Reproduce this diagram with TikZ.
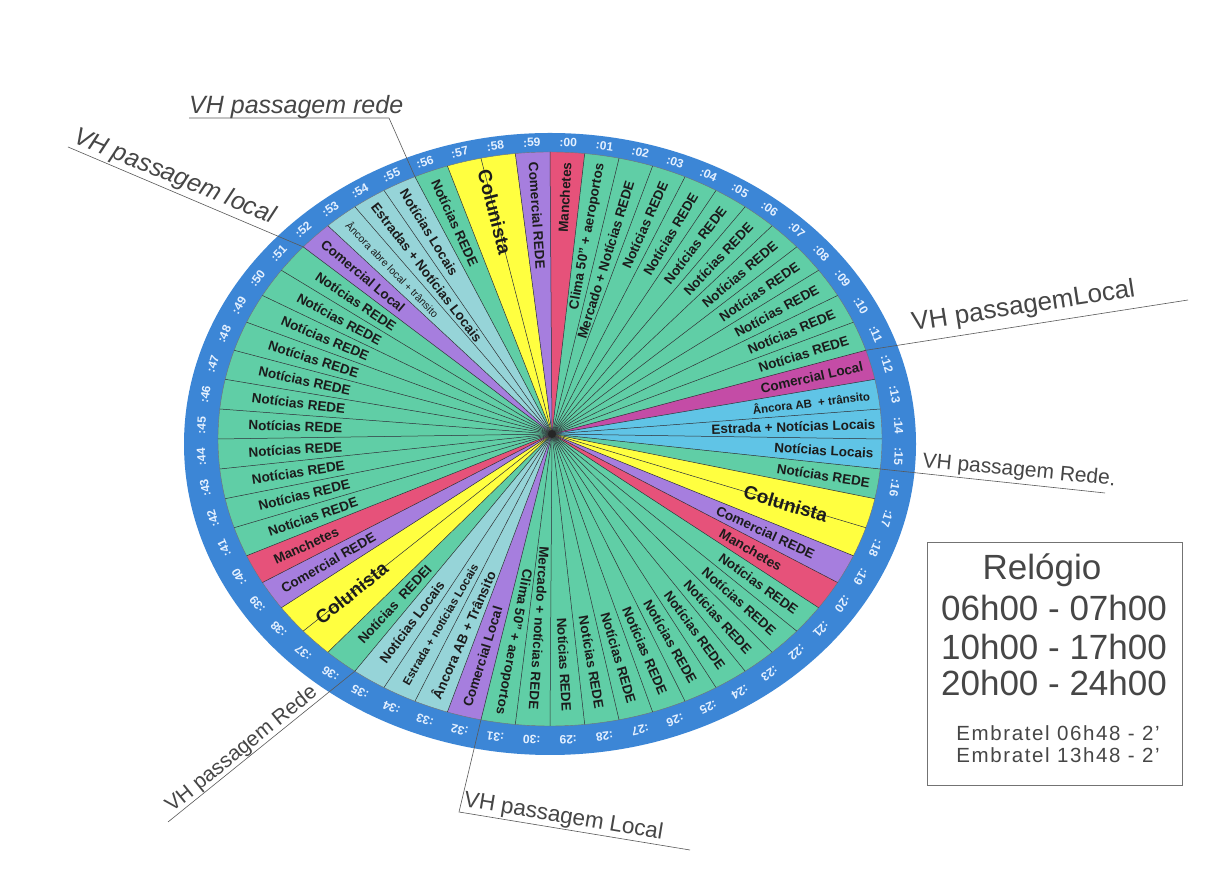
\documentclass[tikz,border=0pt]{standalone}
\usepackage{fontspec}
\setmainfont{Liberation Sans}
\newfontfamily\widefont[LetterSpace=8]{Liberation Sans}
\usetikzlibrary{calc}
\definecolor{cTeal}{RGB}{96,206,166}
\definecolor{cPale}{RGB}{150,212,216}
\definecolor{cSky}{RGB}{96,196,230}
\definecolor{cPurp}{RGB}{166,126,222}
\definecolor{cRed}{RGB}{230,82,122}
\definecolor{cMag}{RGB}{196,76,166}
\definecolor{cYel}{RGB}{255,255,64}
\definecolor{cRing}{RGB}{60,134,214}
\definecolor{cRim}{RGB}{228,240,255}
\definecolor{cTxt}{RGB}{28,28,28}
\definecolor{cGray}{RGB}{70,70,70}
\newcommand\seglabel[5]{%
  \pgfmathsetmacro\tmid{90-6*(#1+#2/2)}%
  \ifnum#1<32 \def\sanc{east}\def\sadd{0}\else\def\sanc{west}\def\sadd{180}\fi
  \path ([shift={(Ci)}]\tmid:332pt and 287pt) coordinate (P);
  \path let \p1=($(P)-(H)$), \n1={atan2(\y1,\x1)+\sadd} in
    node[#3, anchor=\sanc, rotate=\n1] at ($(P)!#4pt!(H)$) {#5};
}
\begin{document}
\begin{tikzpicture}[x=1pt,y=1pt,
  lab/.style={font=\fontsize{13.5}{14}\selectfont\bfseries, text=cTxt, inner sep=0pt},
  labs/.style={font=\fontsize{11.5}{12}\selectfont\bfseries, text=cTxt, inner sep=0pt},
  labt/.style={font=\fontsize{10.5}{11}\selectfont, text=cTxt, inner sep=0pt},
  labc/.style={font=\fontsize{19}{20}\selectfont\bfseries, text=cTxt, inner sep=0pt},
  rim/.style={font=\fontsize{12}{12}\selectfont\bfseries, text=cRim, inner sep=0pt},
  spoke/.style={draw=black!80, line width=0.5pt},
  vh/.style={text=cGray, inner sep=0pt},
  conn/.style={draw=black!65, line width=0.6pt},
  boxtxt/.style={text=cGray, inner sep=0pt, font=\fontsize{35}{36}\selectfont}]
\useasboundingbox (0,0) rectangle (1216,880);
\fill[white] (0,0) rectangle (1216,880);
\coordinate (Ci) at (550,441);
\coordinate (Co) at (550,436);
\coordinate (Cm) at (550,438.75);
\coordinate (H) at (552,446);
% ring
\fill[cRing] (Co) ellipse [x radius=366pt, y radius=311pt];
% wedges
\foreach \m/\c in {0/cRed,1/cTeal,2/cTeal,3/cTeal,4/cTeal,5/cTeal,6/cTeal,7/cTeal,8/cTeal,9/cTeal,10/cTeal,11/cTeal,12/cMag,13/cSky,14/cSky,15/cSky,16/cTeal,17/cYel,18/cYel,19/cPurp,20/cRed,21/cTeal,22/cTeal,23/cTeal,24/cTeal,25/cTeal,26/cTeal,27/cTeal,28/cTeal,29/cTeal,30/cTeal,31/cTeal,32/cPurp,33/cPale,34/cPale,35/cPale,36/cTeal,37/cYel,38/cYel,39/cPurp,40/cRed,41/cTeal,42/cTeal,43/cTeal,44/cTeal,45/cTeal,46/cTeal,47/cTeal,48/cTeal,49/cTeal,50/cTeal,51/cTeal,52/cPurp,53/cPale,54/cPale,55/cPale,56/cTeal,57/cYel,58/cYel,59/cPurp}{
  \pgfmathsetmacro\ta{90-6*\m}
  \pgfmathsetmacro\tb{84-6*\m}
  \fill[\c] (H) -- ([shift={(Ci)}]\ta:332pt and 287pt) arc[start angle=\ta, end angle=\tb, x radius=332pt, y radius=287pt] -- cycle;
}
\draw[black!55, line width=0.4pt] (Ci) ellipse [x radius=332pt, y radius=287pt];
\foreach \m in {0,...,59}{
  \draw[spoke] (H) -- ([shift={(Ci)}]{90-6*\m}:332pt and 287pt);
}
\fill[black!85] (H) circle (4pt);
% rim minute labels
\foreach \m in {0,...,59}{
  \pgfmathsetmacro\tang{90-6*(\m+0.5)}
  \pgfmathsetmacro\rr{atan2(-299*cos(\tang),349*sin(\tang))}
  \node[rim, rotate=\rr] at ([shift={(Cm)}]\tang:349pt and 299pt) {\ifnum\m<10 :0\m\else :\m\fi};
}
% segment labels
\seglabel{0}{1}{lab}{10}{Manchetes}
\seglabel{1}{1}{lab}{8}{Clima 50" + aeroportos}
\seglabel{2}{1}{lab}{20}{Mercado + Notícias REDE}
\foreach \m in {3,...,11}{\seglabel{\m}{1}{lab}{12}{Notícias REDE}}
\seglabel{12}{1}{lab}{8}{Comercial Local}
\seglabel{13}{1}{labs}{8}{Âncora AB\ \ + trânsito}
\seglabel{14}{1}{lab}{6}{Estrada + Notícias Locais}
\seglabel{15}{1}{lab}{8}{Notícias Locais}
\seglabel{16}{1}{lab}{8}{Notícias REDE}
\seglabel{17}{2}{labc}{40}{Colunista}
\seglabel{19}{1}{lab}{35}{Comercial REDE}
\seglabel{20}{1}{lab}{55}{Manchetes}
\foreach \m in {21,...,29}{\seglabel{\m}{1}{lab}{14}{Notícias REDE}}
\seglabel{30}{1}{lab}{16}{Mercado + notícias REDE}
\seglabel{31}{1}{lab}{8}{Clima 50" + aeroportos}
\seglabel{32}{1}{lab}{10}{Comercial Local}
\seglabel{33}{1}{lab}{10}{Âncora AB + Trânsito}
\seglabel{34}{1}{labs}{12}{Estrada + notícias Locais}
\seglabel{35}{1}{lab}{22}{Notícias Locais}
\seglabel{36}{1}{lab}{28}{Notícias\ \ REDEI}
\seglabel{37}{2}{labc}{18}{Colunista}
\seglabel{39}{1}{lab}{12}{Comercial REDE}
\seglabel{40}{1}{lab}{22}{Manchetes}
\foreach \m in {41,...,51}{\seglabel{\m}{1}{lab}{30}{Notícias REDE}}
\seglabel{52}{1}{lab}{10}{Comercial Local}
\seglabel{53}{1}{labt}{10}{Âncora abre local + trânsito}
\seglabel{54}{1}{lab}{8}{Estradas + Notícias Locais}
\seglabel{55}{1}{lab}{8}{Notícias Locais}
\seglabel{56}{1}{lab}{10}{Notícias REDE}
\seglabel{57}{2}{labc}{12}{Colunista}
\seglabel{59}{1}{lab}{10}{Comercial REDE}
% connector end points on the rim
\path ([shift={(Ci)}]114:332pt and 287pt) coordinate (e56);
\path ([shift={(Ci)}]138:332pt and 287pt) coordinate (e52);
\path ([shift={(Ci)}]18:332pt and 287pt) coordinate (e12);
\path ([shift={(Ci)}]-6:332pt and 287pt) coordinate (e16);
\path ([shift={(Ci)}]234:332pt and 287pt) coordinate (e36);
\path ([shift={(Ci)}]258:332pt and 287pt) coordinate (e32);
% VH labels
\node[vh, font=\fontsize{25}{26}\selectfont\itshape, anchor=base west] (vh1) at (189,766) {VH passagem rede};
\draw[conn] ([yshift=-4pt]vh1.base west) -- ++(200,0) -- (e56);
\node[vh, font=\fontsize{25}{26}\selectfont\itshape, anchor=base west, rotate=-22.2] (vh2) at (72,738) {VH passagem local};
\coordinate (s2) at (68,733);
\draw[conn] (s2) -- (e52);
\node[vh, font=\fontsize{26}{27}\selectfont, anchor=base west, rotate=8.8] (vh3) at (913,549) {VH passagemLocal};
\coordinate (s3) at (1188,580);
\draw[conn] (e12) -- (s3);
\node[vh, font=\fontsize{21}{22}\selectfont, anchor=base west, rotate=-5.5] (vh4) at (922,413) {VH passagem Rede.};
\coordinate (s4) at (1105,387);
\draw[conn] (e16) -- (s4);
\node[vh, font=\fontsize{21}{22}\selectfont, anchor=base west, rotate=39] (vh5) at (172,67) {VH passagem Rede};
\coordinate (s5) at (168,58);
\draw[conn] (e36) -- (s5);
\node[vh, font=\fontsize{22.5}{23}\selectfont, anchor=base west, rotate=-9.5] (vh6) at (463,74) {VH passagem Local};
\coordinate (s6a) at (459,68);
\coordinate (s6b) at (690,30);
\draw[conn] (e32) -- (s6a) -- (s6b);
% legend box
\node[draw=black!55, line width=0.6pt, minimum width=255pt, minimum height=243pt, anchor=north west, inner sep=0pt] (box) at (927,338) {};
\node[boxtxt] (r1) at (1042,310) {Relógio};
\node[boxtxt] (r2) at (1054,272) {06h00 - 07h00};
\node[boxtxt] (r3) at (1054,233) {10h00 - 17h00};
\node[boxtxt] (r4) at (1054,197) {20h00 - 24h00};
\node[vh, font=\fontsize{20.5}{21}\selectfont\widefont] (r5) at (1058,147) {Embratel 06h48 - 2’};
\node[vh, font=\fontsize{20.5}{21}\selectfont\widefont] (r6) at (1058,125) {Embratel 13h48 - 2’};
\end{tikzpicture}
\end{document}
